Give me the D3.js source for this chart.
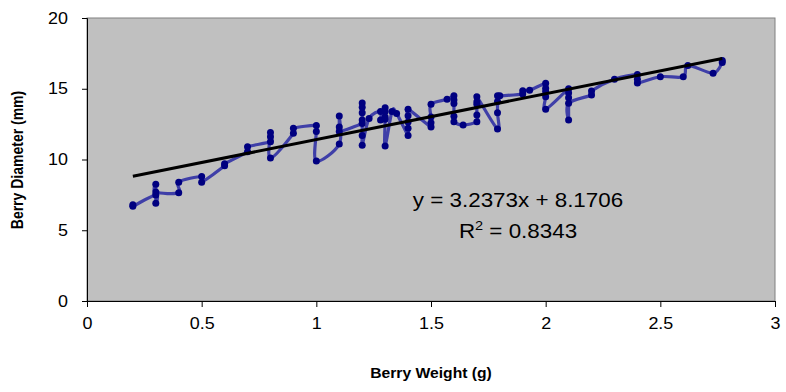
<!DOCTYPE html>
<html><head><meta charset="utf-8">
<script src="https://cdn.jsdelivr.net/npm/d3@7"></script>
<style>body{margin:0;background:#fff}svg{display:block}text{font-family:"Liberation Sans",Arial,sans-serif}</style>
</head><body><svg id="c" width="786" height="392"></svg>
<script>
const weights = [0.2,0.2,
 0.3,0.3,0.3,0.3,
 0.4,0.4,
 0.5,0.5,
 0.6,0.6,
 0.7,0.7,
 0.8,0.8,0.8,0.8,
 0.9,0.9,
 1.0,1.0,1.0,
 1.1,1.1,1.1,1.1,
 1.2,1.2,1.2,1.2,1.2,1.2,1.2,
 1.23,
 1.28,1.28,
 1.3,1.3,1.3,1.3,1.3,
 1.33,1.35,
 1.4,1.4,1.4,1.4,1.4,
 1.5,1.5,1.5,1.5,
 1.57,
 1.6,1.6,1.6,1.6,1.6,
 1.64,
 1.7,1.7,1.7,1.7,1.7,
 1.79,1.79,1.79,1.79,
 1.8,
 1.9,1.9,
 1.93,
 2.0,2.0,2.0,2.0,2.0,
 2.1,2.1,2.1,2.1,2.1,
 2.2,2.2,
 2.3,
 2.4,2.4,2.4,
 2.5,2.6,2.62,2.73,2.77,2.77];
const diameters = [6.8,6.7,
 7.5,6.9,8.25,7.7,
 7.65,8.4,
 8.8,8.4,
 9.55,9.7,
 10.55,10.9,
 11.25,11.6,11.9,10.1,
 11.85,12.2,
 12.4,11.97,9.9,
 11.1,13.07,12.3,11.97,
 12.55,12.8,13.3,13.7,14.0,11.7,11.0,
 12.9,
 13.4,12.8,
 13.66,13.4,13.0,12.84,10.95,
 13.4,13.25,
 11.7,12.2,12.65,13.1,13.55,
 12.3,12.6,13.0,13.9,
 14.25,
 14.5,14.2,13.95,13.05,12.67,
 12.44,
 12.67,13.14,13.9,14.08,14.44,
 12.15,13.3,14.1,14.5,
 14.5,
 14.63,14.86,
 14.9,
 15.38,15.03,14.8,14.44,13.55,
 15.0,14.7,14.37,12.8,13.97,
 14.56,14.84,
 15.67,
 16.0,15.67,15.4,
 15.85,15.85,16.65,16.1,16.85,17.0];
const xTicks = [0,0.5,1,1.5,2,2.5,3];
const yTicks = [0,5,10,15,20];
const slope = 3.2373, intercept = 8.1706, r2 = "0.8343";
const xTitle = "Berry Weight (g)", yTitle = "Berry Diameter (mm)";

const data = weights.map((w,i)=>({x:w,y:diameters[i]}));
const svg = d3.select("#c");
const L=87,R=775,T=18,B=301;
const SX = 1.12;
const x = d3.scaleLinear().domain([0,3]).range([L,R]);
const y = d3.scaleLinear().domain([0,20]).range([B,T]);

svg.append("rect").attr("x",L).attr("y",T).attr("width",R-L).attr("height",B-T)
  .attr("fill","#c0c0c0").attr("stroke","#808080").attr("stroke-width",1);

const xa = svg.append("g").attr("transform",`translate(0,${B})`)
  .call(d3.axisBottom(x).tickValues(xTicks).tickFormat(d=>String(d)).tickSizeOuter(0).tickSize(6).tickPadding(11));
const ya = svg.append("g").attr("transform",`translate(${L},0)`)
  .call(d3.axisLeft(y).tickValues(yTicks).tickSizeOuter(0).tickSize(5).tickPadding(12));
[xa,ya].forEach(g=>{g.selectAll("text").attr("font-size",16).attr("fill","#000")
    .attr("font-family","Liberation Sans, Arial, sans-serif").attr("transform",`scale(${SX},1)`);
  g.selectAll("line,path").attr("stroke","#000");});

// data line
svg.append("path").datum(data)
  .attr("d",d3.line().x(d=>x(d.x)).y(d=>y(d.y)).curve(d3.curveCardinal.tension(0)))
  .attr("fill","none").attr("stroke","#3f3fa8").attr("stroke-width",3.2).attr("stroke-linejoin","round");
svg.append("g").selectAll("circle").data(data).join("circle")
  .attr("cx",d=>x(d.x)).attr("cy",d=>y(d.y)).attr("r",3.5).attr("fill","#000080");

// trendline
const xmin = d3.min(weights), xmax = d3.max(weights);
svg.append("line").attr("x1",x(xmin)).attr("y1",y(slope*xmin+intercept))
  .attr("x2",x(xmax)).attr("y2",y(slope*xmax+intercept))
  .attr("stroke","#000").attr("stroke-width",3);

// equation
svg.append("text").attr("transform",`translate(518,207) scale(${SX},1)`).attr("text-anchor","middle").attr("font-size",20)
  .text(`y = ${slope}x + ${intercept}`);
const rt = svg.append("text").attr("transform",`translate(518,238) scale(${SX},1)`).attr("text-anchor","middle").attr("font-size",20);
rt.append("tspan").text("R");
rt.append("tspan").attr("dy",-8).attr("font-size",13).text("2");
rt.append("tspan").attr("dy",8).text(" = "+r2);

svg.append("text").attr("transform",`translate(431,378) scale(${SX},1)`).attr("text-anchor","middle").attr("font-size",14).attr("font-weight","bold").text(xTitle);
svg.append("text").attr("transform",`translate(23,160) scale(${SX},1) rotate(-90)`).attr("text-anchor","middle").attr("font-size",14).attr("font-weight","bold").text(yTitle);
</script></body></html>
